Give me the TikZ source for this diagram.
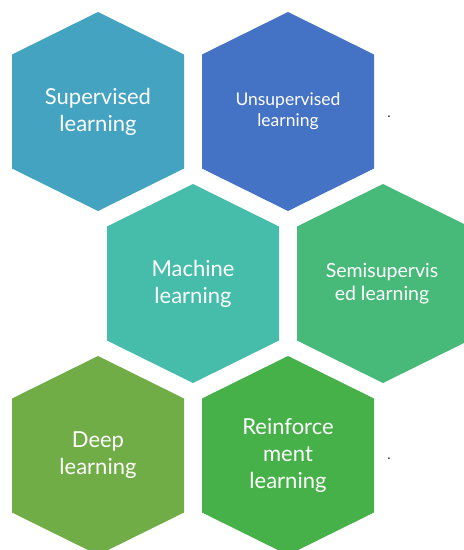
\documentclass[tikz,border=0pt]{standalone}
\usepackage{fontspec}
\setmainfont{Lato}
\definecolor{cSup}{HTML}{43A3C1}
\definecolor{cUns}{HTML}{4472C4}
\definecolor{cMac}{HTML}{45BDAA}
\definecolor{cSem}{HTML}{47B979}
\definecolor{cDee}{HTML}{70AD47}
\definecolor{cRei}{HTML}{46B148}
\newcommand\hexat[2]{\fill[#2] (#1) ++(0,-99.5) -- ++(86,42.5) -- ++(0,114) -- ++(-86,42.5) -- ++(-86,-42.5) -- ++(0,-114) -- cycle;}
\tikzset{
  lbl/.style={text=white, align=center, inner sep=0pt, font=\fontsize{22}{27}\selectfont},
  lblsmall/.style={lbl, font=\fontsize{17.5}{21}\selectfont},
  lblmid/.style={lbl, font=\fontsize{19.5}{23}\selectfont},
  dotmark/.style={text=black!80, inner sep=0pt, anchor=base, font=\fontsize{14}{14}\selectfont}
}
\begin{document}
\begin{tikzpicture}[x=1pt,y=-1pt]
\useasboundingbox (0,0) rectangle (464,550);
\clip (0,0) rectangle (464,550);
\coordinate (sup) at (98,111.5);
\coordinate (uns) at (288,111.5);
\coordinate (mac) at (193,283.5);
\coordinate (sem) at (383,283.5);
\coordinate (dee) at (98,455.5);
\coordinate (rei) at (288,455.5);
\hexat{sup}{cSup}
\hexat{uns}{cUns}
\hexat{mac}{cMac}
\hexat{sem}{cSem}
\hexat{dee}{cDee}
\hexat{rei}{cRei}
\node[lbl] (tsup) at (sup) {Supervised\\learning};
\node[lblsmall] (tuns) at (uns) {Unsupervised\\learning};
\node[lbl] (tmac) at (mac) {Machine\\learning};
\node[lblmid] (tsem) at (382,283.5) {Semisupervis\\ed learning};
\node[lbl] (tdee) at (dee) {Deep\\learning};
\node[lbl] (trei) at (rei) {Reinforce\\ment\\learning};
\node[dotmark] (d1) at (389,117.5) {.};
\node[dotmark] (d2) at (389,459.5) {.};
\end{tikzpicture}
\end{document}
